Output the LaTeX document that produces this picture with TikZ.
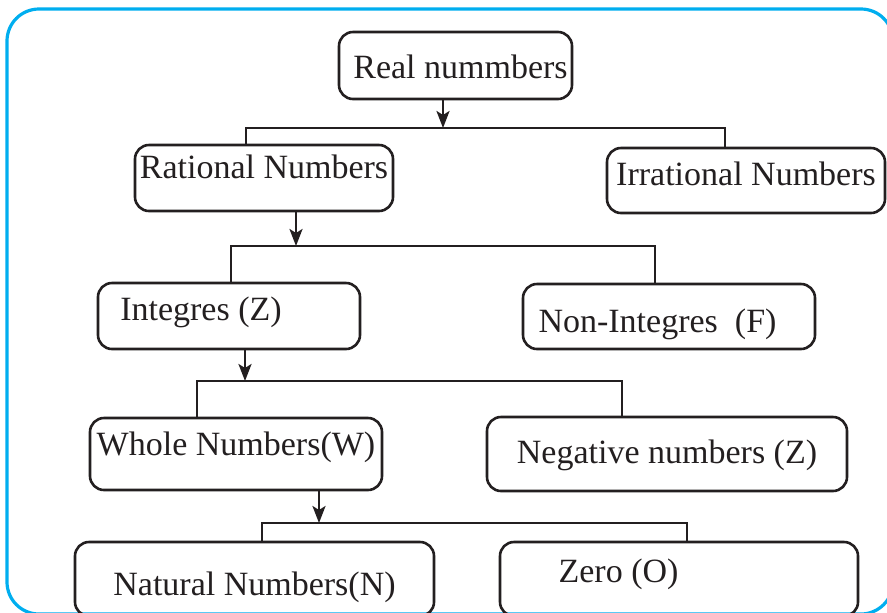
\documentclass[tikz,border=0pt]{standalone}
\usepackage{fontspec}
\setmainfont{Liberation Serif}
\usepackage{tikz}
\usetikzlibrary{arrows.meta}
\definecolor{framecol}{RGB}{0,174,239}
\definecolor{linecol}{RGB}{35,31,32}

\begin{document}
\begin{tikzpicture}[x=0.5pt, y=-0.5pt,
                    numbox/.style 2 args={
                        draw=linecol, text=linecol, line width=1.3pt, rounded corners=7pt,
                        inner sep=0pt, font=\fontsize{17}{20}\selectfont,
                        text height=16pt, text depth=#1, minimum height=#2
                    },
                    arr/.style={draw=linecol, line width=1.3pt, -{Stealth[length=8.5pt, width=6.5pt, inset=2pt]}},
                    link/.style={draw=linecol, line width=1.3pt}
                   ]
	\useasboundingbox (0, 0) rectangle (887, 612);
	\clip (0, 0) rectangle (887, 612);
	\draw[framecol, line width=1.6pt, rounded corners=16pt] (7, 9) rectangle (893, 614);
	% boxes
	\node[numbox={3.5pt}{33.5pt}, minimum width=116.5pt] (real) at (455.5, 65.5) {\kern5pt Real nummbers};
	\node[numbox={16pt}{33pt}, minimum width=129pt] (rat) at (264, 178) {Rational Numbers};
	\node[numbox={11pt}{32.5pt}, minimum width=139pt] (irr) at (746, 180.5) {Irrational Numbers};
	\node[numbox={12pt}{33pt}, minimum width=131pt] (intg) at (229, 316) {Integres (Z)\kern28pt};
	\node[numbox={-2.5pt}{32.5pt}, minimum width=146pt] (nonint) at (669, 316.5) {Non-Integres~ (F)\kern11.5pt};
	\node[numbox={15pt}{36pt}, minimum width=146pt] (whole) at (236, 454) {Whole Numbers(W)};
	\node[numbox={7pt}{37pt}, minimum width=180pt] (neg) at (667, 454) {Negative numbers (Z)};
	\node[numbox={0pt}{37pt}, minimum width=179.5pt] (nat) at (254.5, 579) {Natural Numbers(N)};
	\node[numbox={13pt}{37pt}, minimum width=179pt] (zero) at (679, 579) {Zero (O)\kern60.5pt};
	% branch points
	\coordinate (j1) at (443, 128);
	\coordinate (l1) at (246, 128);
	\coordinate (r1) at (725, 128);
	\coordinate (j2) at (296, 246);
	\coordinate (l2) at (231, 246);
	\coordinate (r2) at (655, 246);
	\coordinate (j3) at (245, 381);
	\coordinate (l3) at (197, 381);
	\coordinate (r3) at (622, 381);
	\coordinate (j4) at (319, 523);
	\coordinate (l4) at (262, 523);
	\coordinate (r4) at (687, 523);
	% connectors
	\draw[link] (l1 |- rat.north) -- (l1) -- (r1) -- (r1 |- irr.north);
	\draw[arr] (real.south -| j1) -- (j1);
	\draw[link] (l2 |- intg.north) -- (l2) -- (r2) -- (r2 |- nonint.north);
	\draw[arr] (rat.south -| j2) -- (j2);
	\draw[link] (l3 |- whole.north) -- (l3) -- (r3) -- (r3 |- neg.north);
	\draw[arr] (intg.south -| j3) -- (j3);
	\draw[link] (l4 |- nat.north) -- (l4) -- (r4) -- (r4 |- zero.north);
	\draw[arr] (whole.south -| j4) -- (j4);
\end{tikzpicture}
\end{document}
